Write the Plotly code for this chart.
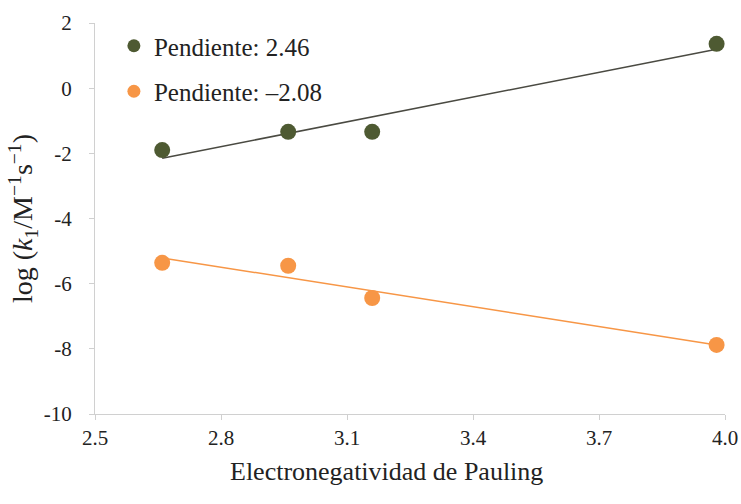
import numpy as np
import plotly.graph_objects as go

# Pauling electronegativity (I, Br, Cl, F)
electroneg = [2.66, 2.96, 3.16, 3.98]
serie_verde = [-1.90, -1.34, -1.34, 1.36]
serie_naranja = [-5.36, -5.45, -6.44, -7.88]
nombres = ["Pendiente: 2.46", "Pendiente: \u20132.08"]
x_ticks = [2.5, 2.8, 3.1, 3.4, 3.7, 4.0]
x_ticklabels = ["2.5", "2.8", "3.1", "3.4", "3.7", "4.0"]
y_ticks = [2, 0, -2, -4, -6, -8, -10]
y_ticklabels = ["2", "0", "-2", "-4", "-6", "-8", "-10"]
x_title = "Electronegatividad de Pauling"
y_title = "log (<i>k</i><sub>1</sub>/M<sup>\u22121</sup>s<sup>\u22121</sup>)"

verde = "#4e5a32"
naranja = "#f79646"
linea_verde = "#4a4a42"

fig = go.Figure()

xs = np.array(electroneg)
for ys, col, lcol, name, grp in [
    (serie_verde, verde, linea_verde, nombres[0], "a"),
    (serie_naranja, naranja, naranja, nombres[1], "b"),
]:
    m, b = np.polyfit(xs, np.array(ys), 1)
    xl = np.array([xs.min(), xs.max()])
    fig.add_trace(go.Scatter(x=xl, y=m * xl + b, mode="lines",
                             line=dict(color=lcol, width=1.5),
                             showlegend=False, hoverinfo="skip"))
    fig.add_trace(go.Scatter(x=electroneg, y=ys, mode="markers", name=name,
                             showlegend=False,
                             marker=dict(color=col, size=16)))
    # legend entry (smaller marker, as in the reference)
    fig.add_trace(go.Scatter(x=[None], y=[None], mode="markers", name=name,
                             legendgroup=grp,
                             marker=dict(color=col, size=13)))

fig.add_annotation(text=x_title, xref="paper", yref="paper",
                   x=0.463, y=-0.148, xanchor="center", yanchor="middle",
                   showarrow=False, font=dict(size=26, color="#222"))

fig.update_layout(
    width=741, height=504,
    margin=dict(l=95, r=16, t=23, b=90),
    paper_bgcolor="white", plot_bgcolor="white",
    font=dict(family="Liberation Serif", size=21, color="#222"),
    showlegend=True,
    legend=dict(x=0.03, y=1.0, xanchor="left", yanchor="top",
                font=dict(size=25, color="#222"),
                traceorder="grouped", tracegroupgap=10,
                bgcolor="rgba(0,0,0,0)", itemwidth=30),
    xaxis=dict(range=[2.5, 4.0], tickvals=x_ticks, ticktext=x_ticklabels,
               showgrid=False, zeroline=False, showline=True, automargin=False,
               linecolor="#d0d0d0", linewidth=1, ticks="outside",
               ticklen=5, tickcolor="#d0d0d0"),
    yaxis=dict(range=[-10, 2], tickvals=y_ticks, ticktext=y_ticklabels,
               showgrid=False, zeroline=False, showline=True, automargin=False,
               linecolor="#d0d0d0", linewidth=1, ticks="outside",
               ticklen=5, tickcolor="#d0d0d0", ticklabelstandoff=13,
               title=dict(text=y_title, font=dict(size=28), standoff=2)),
)

fig.write_html("out.html",
               config={"displayModeBar": False},
               post_script="document.body.style.margin='0';"
                           "document.body.style.overflow='hidden';")
